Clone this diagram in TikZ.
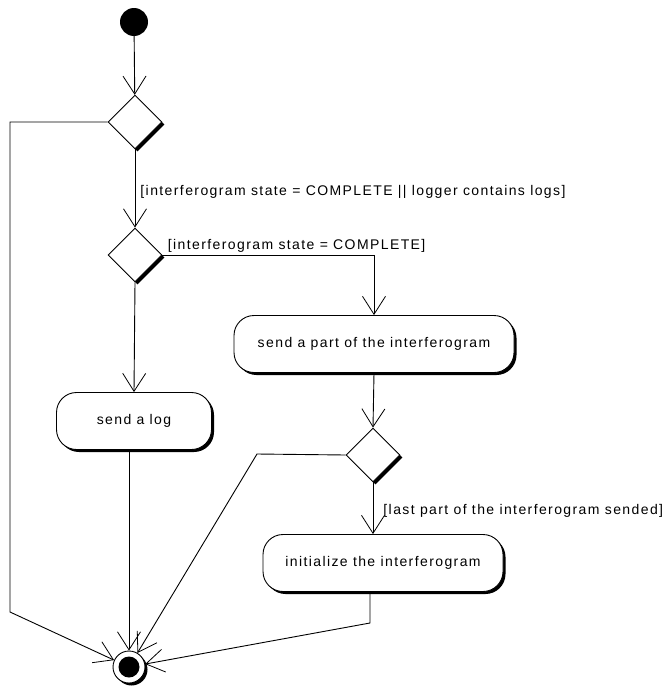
\documentclass[tikz,border=0pt]{standalone}
\usepackage{fontspec}
\newfontfamily\umlfont{Liberation Sans}[LetterSpace=10]
\usetikzlibrary{positioning, arrows.meta, shapes.geometric, shadows}
\definecolor{ink}{HTML}{000000}
\tikzset{
  every node/.style = {font=\umlfont\fontsize{14}{16}\selectfont, text=ink},
  adshade/.style  = {drop shadow={shadow xshift=2.5pt, shadow yshift=-2.5pt, opacity=1, fill=ink}},
  adstart/.style  = {circle, fill=ink, inner sep=0pt, minimum size=28pt},
  adfinal/.style  = {circle, draw=ink, line width=0.9pt, fill=white, inner sep=0pt,
                     minimum size=32pt, adshade,
                     path picture={\fill[ink] (path picture bounding box.center) circle (10.5pt);}},
  addecide/.style = {diamond, draw=ink, line width=0.9pt, fill=white, inner sep=0pt,
                     minimum width=54pt, minimum height=54pt, adshade},
  adaction/.style = {draw=ink, line width=0.9pt, fill=white, rounded corners=20pt,
                     minimum height=57pt, adshade},
  adgo/.style     = {-{Straight Barb[length=18pt,width=23pt,line width=0.8pt]}, draw=ink, line width=0.9pt},
  adguard/.style  = {inner sep=2pt},
}

\begin{document}
\begin{tikzpicture}[x=1pt, y=-1pt]
\useasboundingbox (0,0) rectangle (667,688);

\node[adstart] (start) at (134,22) {};
\node[addecide] (d1) at (135,122) {};
\node[addecide] (d2) at (135,255) {};
\node[adaction, minimum width=280pt] (a1) at (374,344) {send a part of the interferogram};
\node[adaction, minimum width=155pt] (a2) at (134,421) {send a log};
\node[addecide] (d3) at (373,455) {};
\node[adaction, minimum width=240pt] (a3) at (383,563) {initialize the interferogram};
\node[adfinal] (end) at (129,667) {};

\coordinate (c1) at (10,612);
\coordinate (c2) at (257,454);
\coordinate (c3) at (370,623);

\draw[adgo] (start) -- (d1);
\draw[adgo] (d1.south) -- node[adguard, anchor=west, pos=0.55, xshift=3pt]
  {[interferogram state = COMPLETE || logger contains logs]} (d2.north);
\draw[adgo] (d2.east) -| node[adguard, anchor=south west, pos=0, xshift=3pt]
  {[interferogram state = COMPLETE]} (a1.north);
\draw[adgo] (d2.south) -- (a2.north);
\draw[adgo] (a1.south) -- (d3.north);
\draw[adgo] (d3.south) -- node[adguard, anchor=west, pos=0.55, xshift=8pt]
  {[last part of the interferogram sended]} (d3.south |- a3.north);

\draw[adgo] (d1.west) -| (c1) -- (end);
\draw[adgo] (a2.south -| end) -- (end);
\draw[adgo] (d3.west) -- (c2) -- (end);
\draw[adgo] (a3.south -| c3) -- (c3) -- (end);
\end{tikzpicture}
\end{document}
